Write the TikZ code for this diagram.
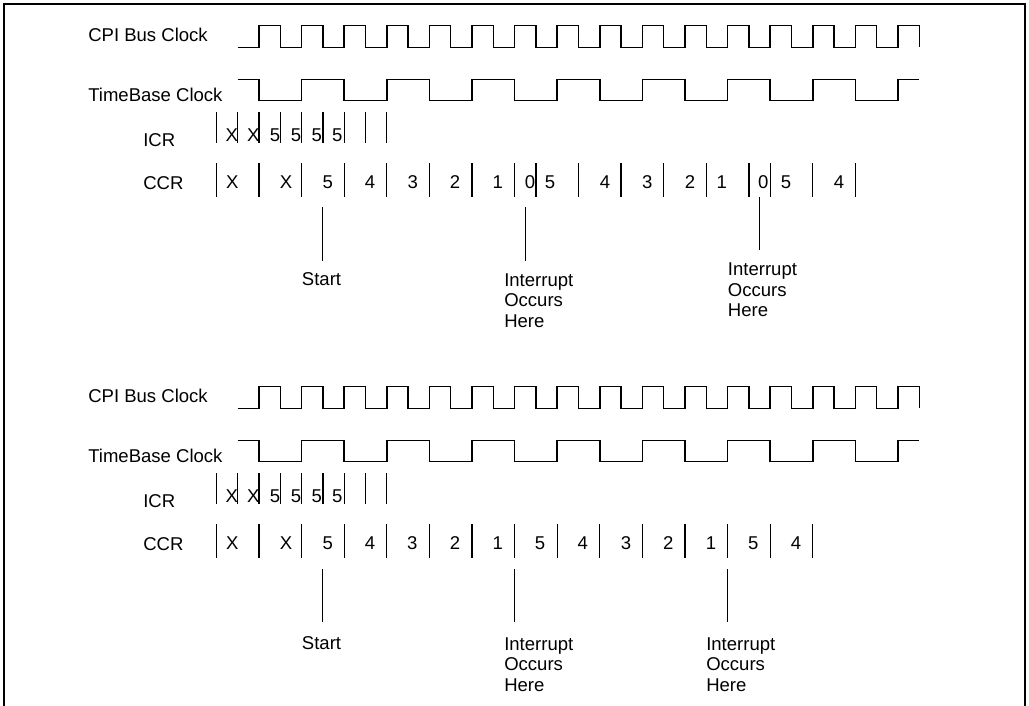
\documentclass[tikz,border=0pt]{standalone}
\usepackage{fontspec}
\setmainfont{Liberation Sans}
\usetikzlibrary{positioning,calc}

\begin{document}
\begin{tikzpicture}[
  x=0.75pt, y=-0.75pt,
  wave/.style={line width=1.1pt},
  tick/.style={line width=1pt},
  pointer/.style={line width=1pt},
  lbl/.style={inner sep=0pt, font=\fontsize{13.9}{15.4}\selectfont},
  sig/.style={lbl, anchor=west},
  note/.style={lbl, anchor=north west, align=left},
]
  \useasboundingbox (0,0) rectangle (1029,706);
  \draw[line width=1.2pt] (4,706) -- (4,4) -- (1025,4) -- (1025,706);

  % rows shared by both diagrams
  \foreach \dy/\s in {0/A,361/B} {
    \begin{scope}[shift={(0,\dy)}]
      \node[sig] (cpi\s) at (88,35) {CPI Bus Clock};
      \node[sig] (tb\s) at (88,95) {TimeBase Clock};
      \node[sig] (icr\s) at (143,140) {ICR};
      \node[sig] (ccr\s) at (143,183) {CCR};
      % CPI bus clock
      \draw[wave] (237.7,47.3) \foreach \i in {1,...,16} {
        -- ++(21.3,0) -- ++(0,-21.6) -- ++(21.3,0) -- ++(0,21.6) };
      % TimeBase clock
      \draw[wave] (237.7,79.5) -- ++(21.3,0) -- ++(0,21.2)
        \foreach \i in {1,...,7} {
        -- ++(42.6,0) -- ++(0,-21.2) -- ++(42.6,0) -- ++(0,21.2) }
        -- ++(42.6,0) -- ++(0,-21.2) -- ++(21.3,0);
      % ICR
      \foreach \k in {0,...,8}
        \draw[tick] (216.4+21.3*\k,112.3) -- ++(0,31);
      \foreach \xx/\v [count=\n] in {231.7/X,253.3/X,275/5,296/5,316.7/5,337.3/5}
        \node[lbl] (icr\s\n) at (\xx,135) {\v};
    \end{scope}
  }

  % CCR, first case
  \foreach \u in {-1,1,3,5,7,9,11,13,14,16,18,20,22,24,25,27,29}
    \draw[tick] (237.7+21.3*\u,163.3) -- ++(0,33.4);
  \foreach \xx/\v [count=\n] in {232.3/X,286/X,327.7/5,370/4,412.7/3,455/2,497.7/1,
      530/0,550/5,605/4,647.3/3,690/2,721.7/1,763.3/0,786/5,839/4}
    \node[lbl] (ccrA\n) at (\xx,182) {\v};

  % CCR, second case
  \foreach \u in {-1,1,...,27}
    \draw[tick] (237.7+21.3*\u,524.3) -- ++(0,33.4);
  \foreach \xx/\v [count=\n] in {232.3/X,286/X,327.7/5,370/4,412.3/3,455/2,497.7/1,
      540/5,582.7/4,626/3,668.3/2,711/1,753.3/5,796/4}
    \node[lbl] (ccrB\n) at (\xx,543) {\v};

  % markers, first case
  \coordinate (stA) at (322.7,207.3);
  \coordinate (irA1) at (525.7,207.3);
  \coordinate (irA2) at (759.3,196.7);
  \node[note] (startA) at (301.7,272.3) {Start};
  \node[note] (intA1) at (504,273) {Interrupt\\Occurs\\Here};
  \node[note] (intA2) at (727.7,262.5) {Interrupt\\Occurs\\Here};
  \draw[pointer, shorten >=8.7pt] (stA) -- (stA |- startA.north);
  \draw[pointer, shorten >=9pt] (irA1) -- (irA1 |- intA1.north);
  \draw[pointer, shorten >=9.4pt] (irA2) -- (irA2 |- intA2.north);

  % markers, second case
  \coordinate (stB) at (322.7,569.3);
  \coordinate (irB1) at (514.3,569.3);
  \coordinate (irB2) at (727.7,569.3);
  \node[note] (startB) at (301.7,636.7) {Start};
  \node[note] (intB1) at (504,637.3) {Interrupt\\Occurs\\Here};
  \node[note] (intB2) at (706,637.3) {Interrupt\\Occurs\\Here};
  \draw[pointer, shorten >=10.8pt] (stB) -- (stB |- startB.north);
  \draw[pointer, shorten >=11.3pt] (irB1) -- (irB1 |- intB1.north);
  \draw[pointer, shorten >=11.3pt] (irB2) -- (irB2 |- intB2.north);
\end{tikzpicture}
\end{document}
